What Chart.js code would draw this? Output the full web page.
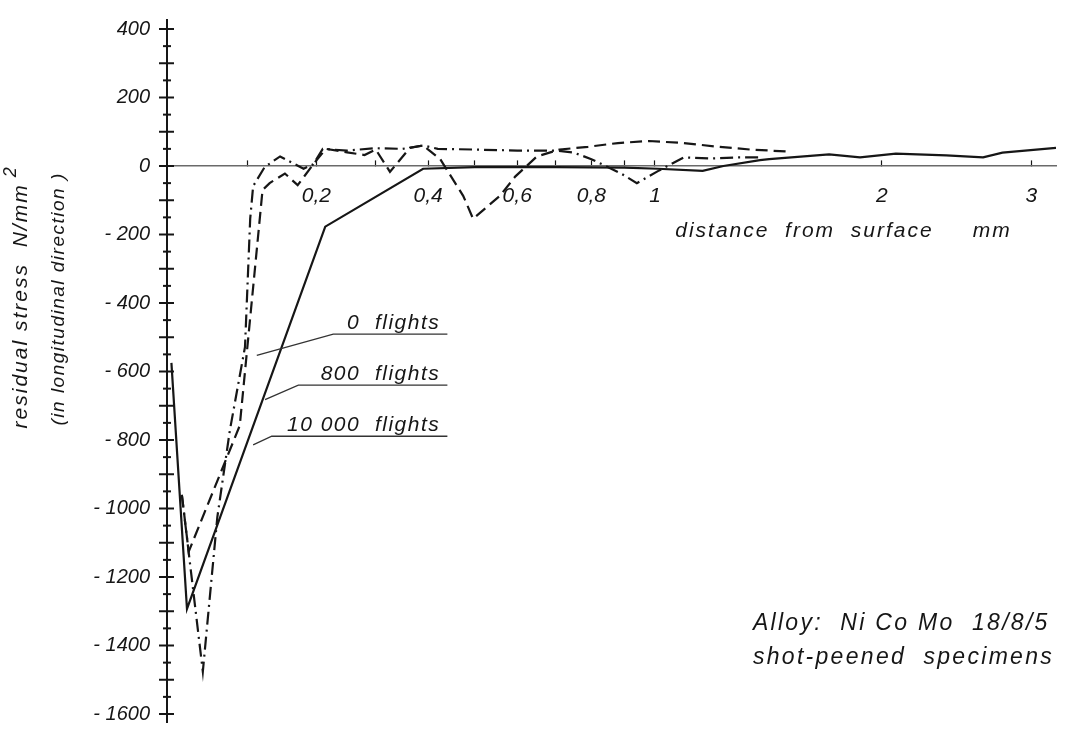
<!DOCTYPE html>
<html>
<head>
<meta charset="utf-8">
<title>Residual stress after flights</title>
<script src="https://cdn.jsdelivr.net/npm/chart.js@4.4.1/dist/chart.umd.min.js"></script>
<style>
  html, body { margin: 0; padding: 0; background: #fff; }
  #wrap { width: 1069px; height: 743px; }
</style>
</head>
<body>
<div id="wrap"><canvas id="stress_chart" width="1069" height="743"></canvas></div>
<script>
// values: depth in mm, stress in N/mm2

// dash-dot curve
const depth0 = [0.017, 0.042, 0.06, 0.076, 0.096, 0.103, 0.107, 0.123, 0.145, 0.18, 0.195, 0.21, 0.25, 0.3, 0.35, 0.39, 0.42, 0.5, 0.6, 0.7, 0.75, 0.8, 0.89, 0.94, 1.01, 1.1, 1.2, 1.3, 1.41];
const stress0 = [-960, -1476, -1025, -772, -528, -154, -59, -3, 28, -8, 5, 50, 45, 52, 50, 60, 50, 48, 45, 45, 39, 20, -22, -50, -15, 25, 22, 25, 25];

// dashed curve
const depth800 = [0.017, 0.025, 0.089, 0.12, 0.13, 0.152, 0.171, 0.195, 0.215, 0.25, 0.28, 0.3, 0.326, 0.364, 0.39, 0.425, 0.474, 0.496, 0.558, 0.595, 0.65, 0.71, 0.79, 0.88, 0.98, 1.1, 1.23, 1.36, 1.53];
const stress800 = [-960, -1126, -758, -70, -50, -22, -56, 5, 50, 40, 32, 48, -17, 53, 60, 20, -87, -154, -87, -31, 28, 48, 56, 67, 73, 67, 56, 48, 42];

// solid curve
const depth10000 = [0.005, 0.023, 0.214, 0.39, 0.5, 0.7, 0.9, 1.01, 1.17, 1.25, 1.4, 1.44, 1.72, 1.88, 2.08, 2.39, 2.64, 2.78, 3.2];
const stress10000 = [-575, -1293, -177, -8, -3, -3, -5, -8, -14, 0, 17, 20, 34, 25, 36, 31, 25, 39, 53];

const xTickValues = [0.1, 0.2, 0.3, 0.4, 0.5, 0.6, 0.7, 0.8, 0.9, 1, 2, 3];
const xLabelValues = [0.2, 0.4, 0.6, 0.8, 1, 2, 3];
const xLabelTexts = ['0,2', '0,4', '0,6', '0,8', '1', '2', '3'];
const yTickValues = [400, 200, 0, -200, -400, -600, -800, -1000, -1200, -1400, -1600];
const yTickLabels = ['400', '200', '0', '- 200', '- 400', '- 600', '- 800', '- 1000', '- 1200', '- 1400', '- 1600'];

const FONT = "'Liberation Sans', Arial, sans-serif";
const INK = '#161616';

// depth axis of the original is stretched like ln(1 + 2x)
const depthToAxis = v => Math.log(1 + 2 * v);

class DepthScale extends Chart.LinearScale {
    static id = 'depth';
    static defaults = Chart.LinearScale.defaults;
    getPixelForValue(value) {
        const a = depthToAxis(this.min), b = depthToAxis(this.max);
        return this.getPixelForDecimal((depthToAxis(value) - a) / (b - a));
    }
    getValueForPixel(pixel) {
        const a = depthToAxis(this.min), b = depthToAxis(this.max);
        const t = a + this.getDecimalForPixel(pixel) * (b - a);
        return (Math.exp(t) - 1) / 2;
    }
}
Chart.register(DepthScale);

function toPoints(xs, ys) {
    return xs.map((x, i) => ({ x: x, y: ys[i] }));
}

// hand lettering: axis crosses, titles, curve captions
const drawingAids = {
    id: 'drawingAids',
    afterDraw(chart) {
        const { ctx, scales: { x, y } } = chart;
        const ax = x.getPixelForValue(0);
        ctx.save();

        // axis stub past both ends, like the drawing
        ctx.strokeStyle = INK;
        ctx.lineWidth = 2;
        ctx.beginPath();
        ctx.moveTo(ax, y.top - 10);
        ctx.lineTo(ax, y.bottom + 9);
        ctx.stroke();

        // crosses on the stress axis, long every 100, short every 50
        for (let v = -1600; v <= 400; v += 50) {
            const py = y.getPixelForValue(v);
            const long = v % 100 === 0;
            ctx.beginPath();
            ctx.moveTo(ax - (long ? 8 : 4), py);
            ctx.lineTo(ax + (long ? 7 : 4), py);
            ctx.stroke();
        }

        ctx.fillStyle = INK;
        ctx.textBaseline = 'middle';

        // y title, two rotated lines
        const yc = y.getPixelForValue(-388);
        ctx.save();
        ctx.translate(ax - 146, yc);
        ctx.rotate(-Math.PI / 2);
        ctx.font = 'italic 21px ' + FONT;
        ctx.letterSpacing = '2px';
        const line1 = 'residual stress  N/mm';
        const w1 = ctx.measureText(line1).width;
        ctx.textAlign = 'left';
        ctx.fillText(line1, -w1 / 2 - 7, 0);
        ctx.font = 'italic 18px ' + FONT;
        ctx.fillText('2', w1 / 2 - 1, -10);
        ctx.restore();

        ctx.save();
        ctx.translate(ax - 108, yc);
        ctx.rotate(-Math.PI / 2);
        ctx.font = 'italic 19px ' + FONT;
        ctx.letterSpacing = '1.5px';
        ctx.textAlign = 'center';
        ctx.fillText('(in longitudinal direction )', 0, 0);
        ctx.restore();

        // x title
        ctx.font = 'italic 21px ' + FONT;
        ctx.letterSpacing = '2px';
        ctx.textAlign = 'left';
        ctx.fillText('distance  from  surface     mm', x.getPixelForValue(1.07), y.getPixelForValue(-190));

        // curve captions with underline and leader
        const notes = [
            { text: '0  flights', tip: [0.112, -553], start: [0.227, -491] },
            { text: '800  flights', tip: [0.1235, -682], start: [0.172, -640] },
            { text: '10 000  flights', tip: [0.107, -814], start: [0.133, -789] }
        ];
        ctx.letterSpacing = '1.5px';
        notes.forEach(n => {
            const ly = y.getPixelForValue(n.start[1]);
            const lx = x.getPixelForValue(n.start[0]);
            const rx = x.getPixelForValue(0.44);
            ctx.strokeStyle = '#333';
            ctx.lineWidth = 1.3;
            ctx.beginPath();
            ctx.moveTo(x.getPixelForValue(n.tip[0]), y.getPixelForValue(n.tip[1]));
            ctx.lineTo(lx, ly);
            ctx.lineTo(rx, ly);
            ctx.stroke();
            ctx.textAlign = 'right';
            ctx.textBaseline = 'alphabetic';
            ctx.font = 'italic 21px ' + FONT;
            ctx.fillText(n.text, x.getPixelForValue(0.425), ly - 5);
        });

        // alloy note
        ctx.textAlign = 'left';
        ctx.textBaseline = 'middle';
        ctx.font = 'italic 23px ' + FONT;
        ctx.letterSpacing = '2.3px';
        ctx.fillText('Alloy:  Ni Co Mo  18/8/5', x.getPixelForValue(1.37), y.getPixelForValue(-1336));
        ctx.fillText('shot-peened  specimens', x.getPixelForValue(1.37), y.getPixelForValue(-1434));

        ctx.restore();
    }
};

const lineStyle = {
    borderColor: INK,
    borderWidth: 2.2,
    pointRadius: 0,
    fill: false,
    tension: 0,
    borderCapStyle: 'butt'
};

new Chart(document.getElementById('stress_chart'), {
    type: 'line',
    data: {
        datasets: [
            Object.assign({ label: '0 flights', data: toPoints(depth0, stress0), borderDash: [13, 5, 2, 5] }, lineStyle),
            Object.assign({ label: '800 flights', data: toPoints(depth800, stress800), borderDash: [12, 6] }, lineStyle),
            Object.assign({ label: '10 000 flights', data: toPoints(depth10000, stress10000) }, lineStyle)
        ]
    },
    options: {
        responsive: false,
        animation: false,
        layout: { padding: { left: 0, right: 13, top: 19, bottom: 11 } },
        plugins: {
            legend: { display: false },
            tooltip: { enabled: false }
        },
        scales: {
            x: {
                type: 'depth',
                min: 0,
                max: 3.2,
                position: { y: 0 },
                afterFit: s => { s.height = 0; },
                afterBuildTicks: s => { s.ticks = xTickValues.map(v => ({ value: v })); },
                grid: { display: true, drawOnChartArea: false, drawTicks: true, tickLength: -6, tickColor: INK, tickWidth: 1.2 },
                border: { display: true, color: '#6a6a6a', width: 1.4 },
                ticks: {
                    autoSkip: false,
                    maxRotation: 0,
                    padding: 24,
                    color: INK,
                    font: { family: FONT, size: 21, style: 'italic' },
                    callback: v => {
                        const i = xLabelValues.findIndex(l => Math.abs(l - v) < 1e-9);
                        return i >= 0 ? xLabelTexts[i] : '';
                    }
                }
            },
            y: {
                min: -1600,
                max: 400,
                afterFit: s => { s.width = 167; },
                afterBuildTicks: s => { s.ticks = yTickValues.map(v => ({ value: v })); },
                grid: { display: false, drawTicks: false },
                border: { display: true, color: INK, width: 2 },
                ticks: {
                    padding: 17,
                    color: INK,
                    font: { family: FONT, size: 20, style: 'italic' },
                    callback: v => yTickLabels[yTickValues.indexOf(v)]
                }
            }
        }
    },
    plugins: [drawingAids]
});
</script>
</body>
</html>
